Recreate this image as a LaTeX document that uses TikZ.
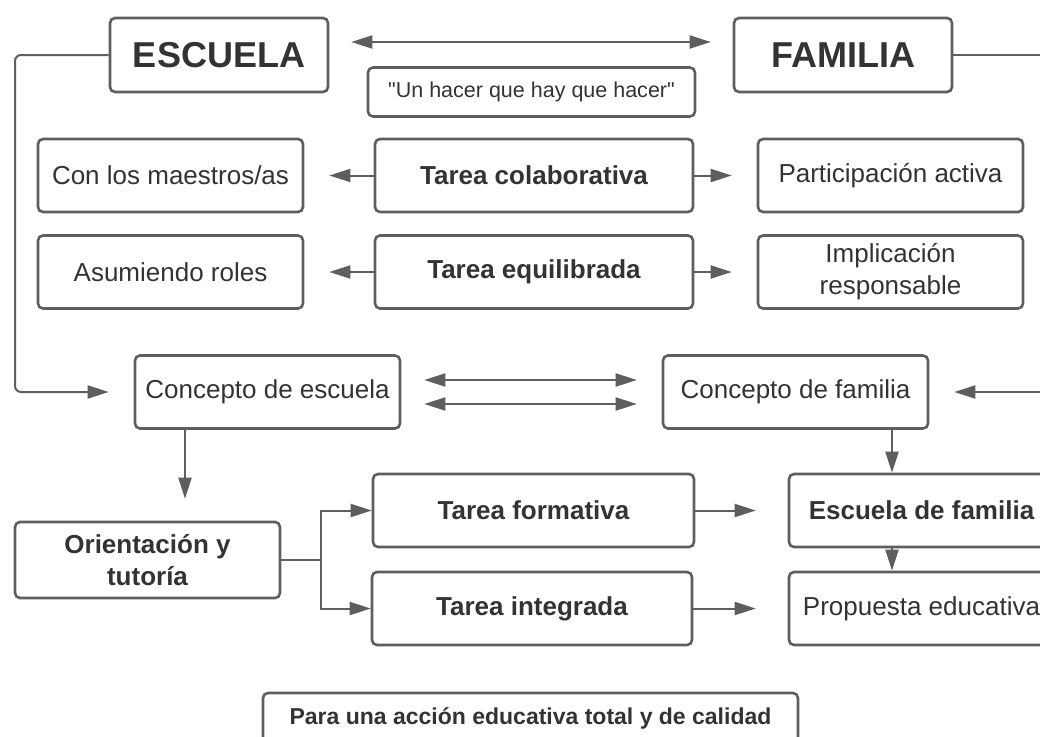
\documentclass[tikz,border=0pt]{standalone}
\usepackage{fontspec}
\setmainfont{Liberation Sans}
\newfontfamily\qfont{Liberation Sans}
\usetikzlibrary{arrows.meta,calc}
\definecolor{ln}{HTML}{5E5E5E}
\definecolor{tx}{HTML}{333333}
\begin{document}
\begin{tikzpicture}[x=1pt,y=-1pt,
 box/.style={draw=ln, line width=2.6pt, rounded corners=5pt, text=tx, minimum width=265pt, minimum height=73pt, inner sep=2pt, align=center, font=\fontsize{26}{32}\selectfont},
 bbox/.style={box, font=\bfseries\fontsize{26}{32}\selectfont},
 tip/.tip={Triangle[length=21pt,width=13pt]},
 arr/.style={draw=ln, line width=2pt, -tip},
 darr/.style={draw=ln, line width=2pt, tip-tip}]
\useasboundingbox (0,0) rectangle (1040,736);
\fill[white] (0,0) rectangle (1040,736);
\clip (0,0) rectangle (1040,736);

\node[box, minimum width=218pt, minimum height=74pt, font=\bfseries\fontsize{36}{40}\selectfont] (esc) at (219,55) {ESCUELA};
\node[box, minimum width=218pt, minimum height=74pt, font=\bfseries\fontsize{36}{40}\selectfont] (fam) at (843,55) {FAMILIA};
\node[box, minimum width=327pt, minimum height=49pt, font=\qfont\fontsize{21.5}{25}\selectfont] (quo) at (531.5,92) {"Un hacer que hay que hacer"};

\node[box] (con) at (170.5,175.5) {Con los maestros/as};
\node[bbox, minimum width=318pt] (tcol) at (534,175.5) {Tarea colaborativa};
\node[box] (part) at (890.5,175.5) {Participación activa};
\node[box] (asu) at (170.5,272) {Asumiendo roles};
\node[bbox, minimum width=318pt] (teq) at (534,272) {Tarea equilibrada};
\node[box] (impl) at (890.5,272) {Implicación\\responsable};

\node[box] (cesc) at (267.5,392) {Concepto de escuela};
\node[box] (cfam) at (795.5,392) {Concepto de familia};

\node[bbox, minimum height=76pt] (ori) at (147.5,560) {Orientación y\\tutoría};
\node[bbox, minimum width=321pt] (tfor) at (533.5,510.5) {Tarea formativa};
\node[bbox, minimum width=320pt] (tint) at (532,608.5) {Tarea integrada};
\node[bbox] (efam) at (921.5,510.5) {Escuela de familia};
\node[box] (prop) at (921.5,608.5) {Propuesta educativa};

\node[box, minimum width=535pt, minimum height=50pt, font=\bfseries\fontsize{23}{28}\selectfont] (fin) at (530.5,718) {Para una acción educativa total y de calidad};

% connectors
\draw[darr] ($(esc.east)+(22,-13)$) -- ($(fam.west)+(-22,-13)$);
\coordinate (rc) at (1065,392);
\draw[arr] (fam.east) -| (rc) -- ([xshift=25pt]cfam.east);
\coordinate (lc) at (15,392);
\draw[arr, rounded corners=6pt] (esc.west) -| (lc) -- ([xshift=-25pt]cesc.west);

\draw[arr, shorten >=25pt] (tcol.west) -- (con.east);
\draw[arr, shorten >=25pt] (teq.west) -- (asu.east);
\draw[arr, shorten >=25pt] (tcol.east) -- (part.west);
\draw[arr, shorten >=25pt] (teq.east) -- (impl.west);

\draw[darr, shorten <=23pt, shorten >=25pt] ($(cesc.east)+(0,-12)$) -- ($(cfam.west)+(0,-12)$);
\draw[darr, shorten <=23pt, shorten >=25pt] ($(cesc.east)+(0,12)$) -- ($(cfam.west)+(0,12)$);

\coordinate (dl) at (185,0);
\draw[arr, shorten >=22pt] (cesc.south -| dl) -- (ori.north -| dl);

\coordinate (fk) at (321,560);
\draw[ln, line width=2pt] (ori.east) -- (fk);
\draw[arr] (fk) |- (tfor.west);
\draw[arr] (fk) |- (tint.west);

\draw[arr, shorten >=32pt] (tfor.east) -- (efam.west);
\draw[arr, shorten >=32pt] (tint.east) -- (prop.west);

\coordinate (dr) at (892,0);
\draw[arr] (cfam.south -| dr) -- (efam.north -| dr);
\draw[arr] (efam.south -| dr) -- (prop.north -| dr);
\end{tikzpicture}
\end{document}
